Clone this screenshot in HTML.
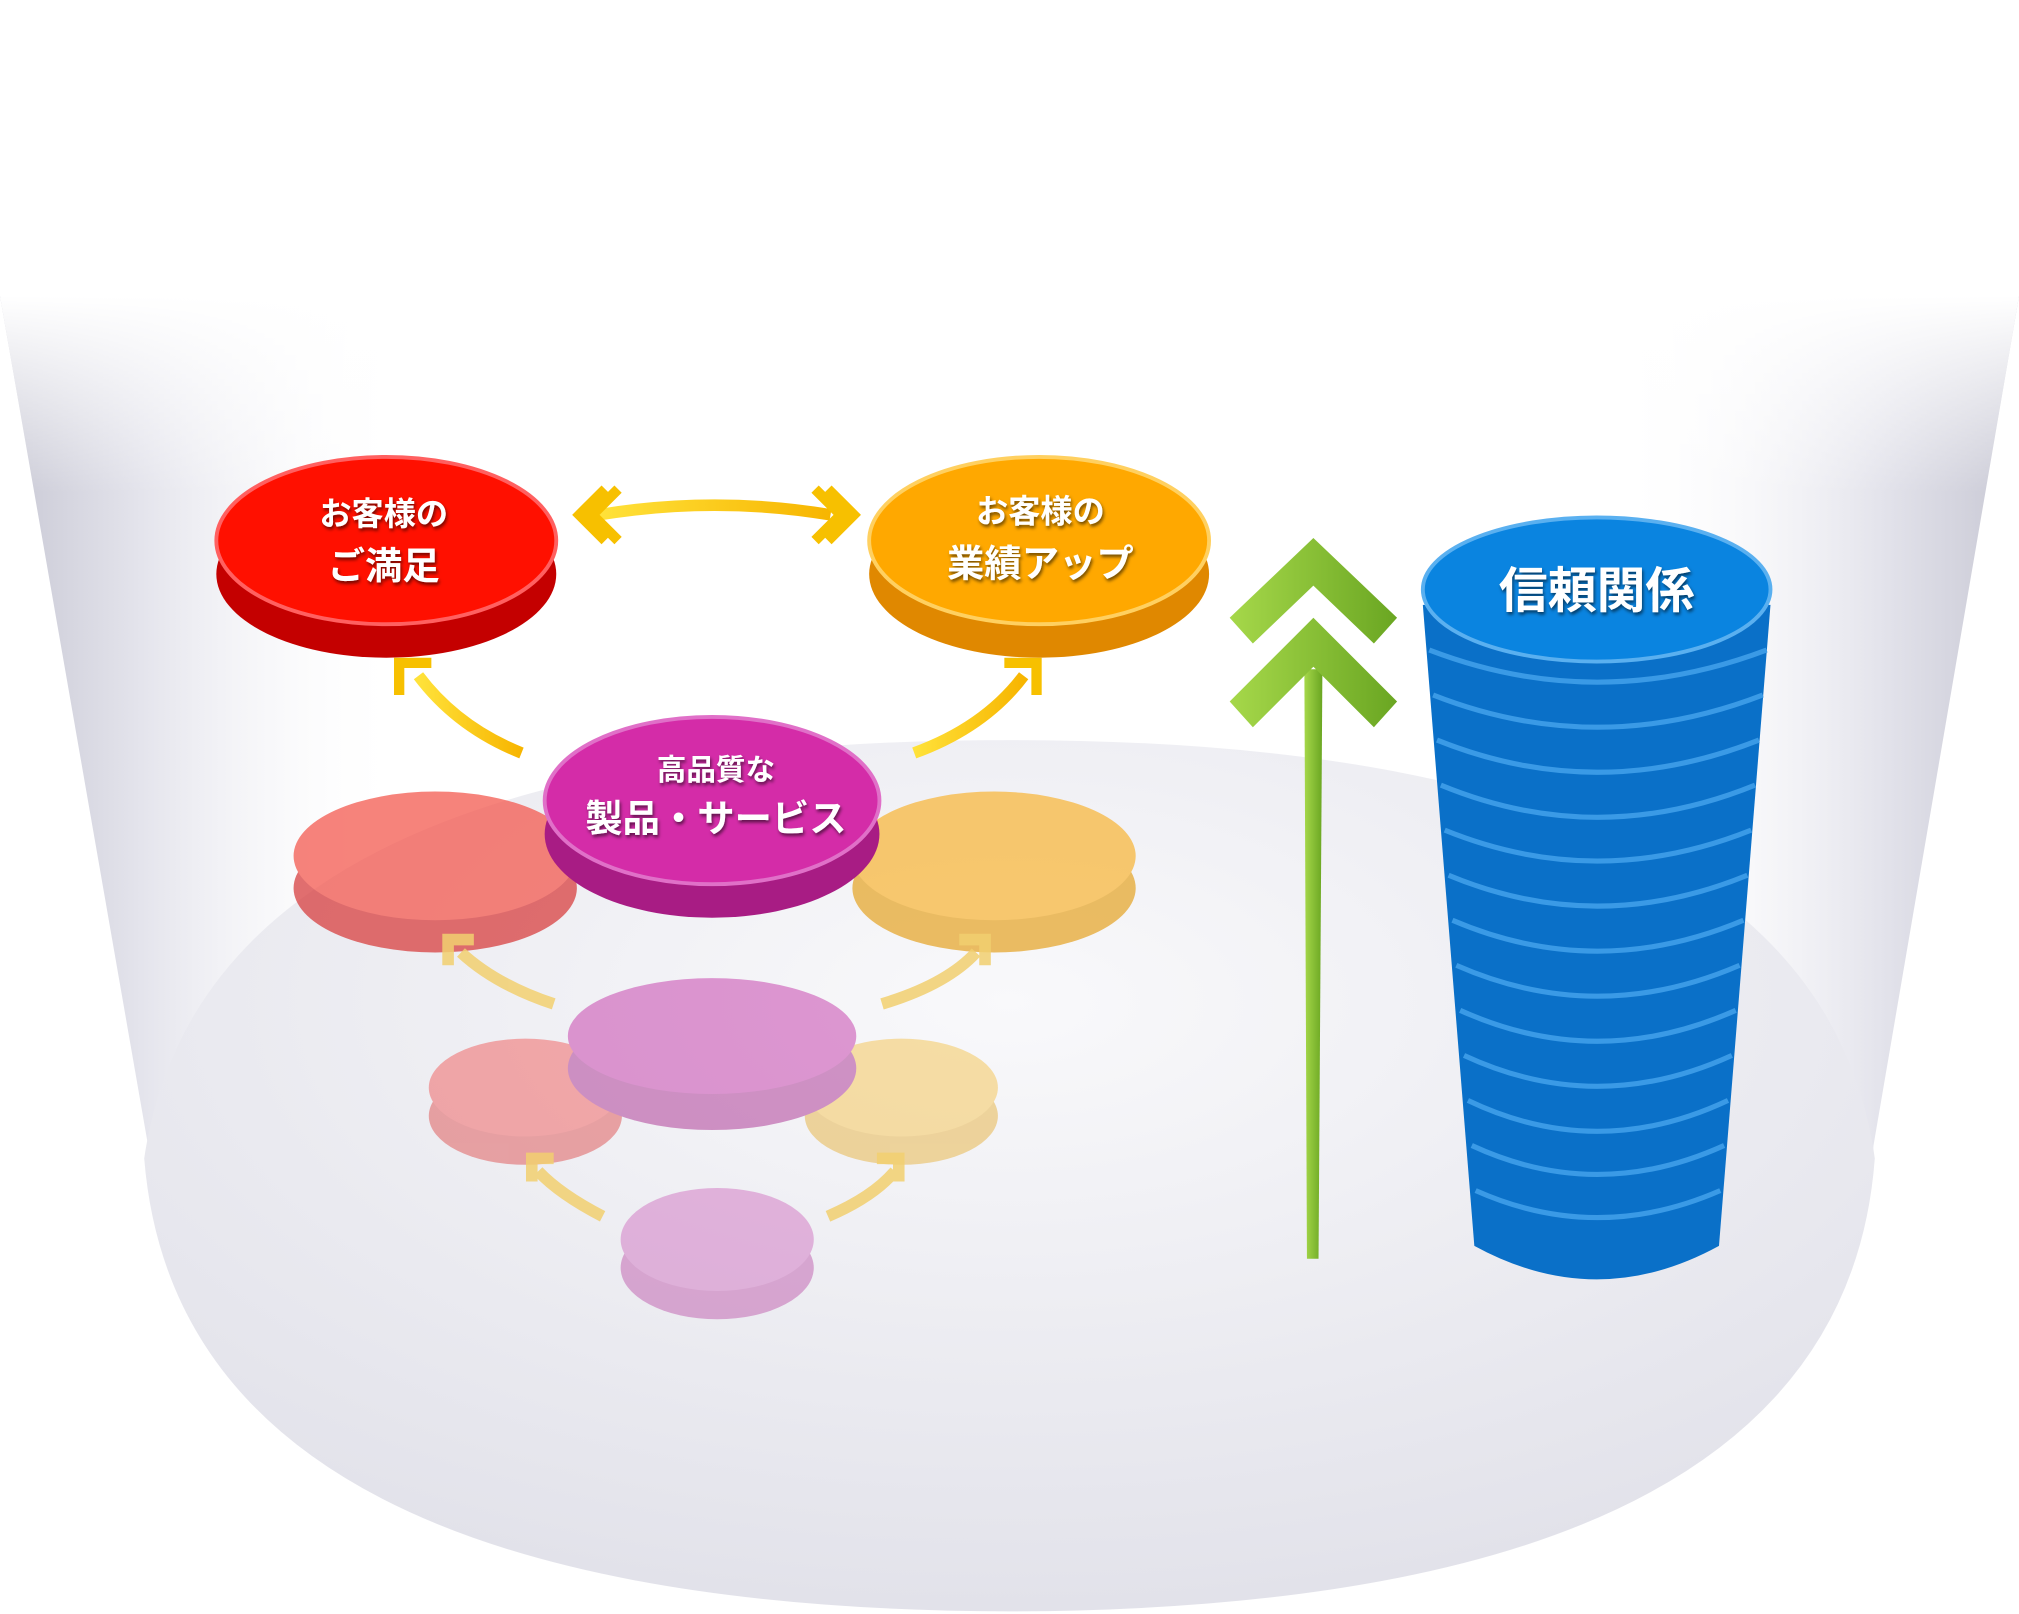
<!DOCTYPE html>
<html><head><meta charset="utf-8">
<style>
html,body{margin:0;padding:0;background:#fff;}
svg{display:block;}
text{font-family:"Liberation Sans","Noto Sans CJK JP",sans-serif;font-weight:bold;fill:#fff;}
</style></head><body>
<svg width="2019" height="1614" viewBox="0 0 1568 1254" preserveAspectRatio="none" xmlns="http://www.w3.org/2000/svg">
<defs>
<linearGradient id="wallL" x1="0" y1="0" x2="1" y2="0">
<stop offset="0" stop-color="#c8c8d4"/><stop offset="0.07" stop-color="#e4e4ec"/><stop offset="0.2" stop-color="#fff" stop-opacity="0"/>
<stop offset="0.8" stop-color="#fff" stop-opacity="0"/><stop offset="0.93" stop-color="#e4e4ec"/><stop offset="1" stop-color="#c8c8d4"/></linearGradient>
<linearGradient id="wallV" x1="0" y1="0" x2="0" y2="1">
<stop offset="0" stop-color="#fff"/><stop offset="0.15" stop-color="#fff" stop-opacity="0"/><stop offset="1" stop-color="#fff" stop-opacity="0"/></linearGradient>
<radialGradient id="floor" cx="0.5" cy="0.3" r="0.7">
<stop offset="0" stop-color="#f9f9fb"/><stop offset="1" stop-color="#e2e2ea"/></radialGradient>
<linearGradient id="grn" x1="0" y1="0" x2="1" y2="0"><stop offset="0" stop-color="#a6d84a"/><stop offset="1" stop-color="#6aa622"/></linearGradient>
<linearGradient id="yel" x1="0" y1="0" x2="1" y2="0"><stop offset="0" stop-color="#ffe23a"/><stop offset="1" stop-color="#f7b500"/></linearGradient>
<filter id="ts"><feDropShadow dx="1" dy="2" stdDeviation="1.2" flood-color="#000" flood-opacity="0.55"/></filter>
</defs>
<rect width="1568" height="1254" fill="#fff"/>
<path d="M0,230 L115,890 Q140,1250 784,1252 Q1430,1250 1455,890 L1568,230 Z" fill="url(#wallL)"/>
<path d="M0,230 L115,890 Q140,1250 784,1252 Q1430,1250 1455,890 L1568,230 Z" fill="url(#wallV)"/>
<path d="M112,900 Q160,575 784,575 Q1410,575 1456,900 Q1430,1250 784,1252 Q140,1250 112,900 Z" fill="url(#floor)"/>

<g opacity="0.55">
<ellipse cx="557" cy="985" rx="75" ry="40" fill="#c46ab4"/><ellipse cx="557" cy="963" rx="75" ry="40" fill="#d37fc6"/>
<ellipse cx="408" cy="867" rx="75" ry="38" fill="#e06060"/><ellipse cx="408" cy="845" rx="75" ry="38" fill="#f06a6a"/>
<ellipse cx="700" cy="867" rx="75" ry="38" fill="#e8b850"/><ellipse cx="700" cy="845" rx="75" ry="38" fill="#f5c860"/>
<ellipse cx="553" cy="830" rx="112" ry="48" fill="#b0409a"/><ellipse cx="553" cy="805" rx="112" ry="45" fill="#c848b0"/>
</g>
<g opacity="0.75">
<ellipse cx="338" cy="690" rx="110" ry="50" fill="#d84040"/><ellipse cx="338" cy="665" rx="110" ry="50" fill="#f45a50"/>
<ellipse cx="772" cy="690" rx="110" ry="50" fill="#e6a830"/><ellipse cx="772" cy="665" rx="110" ry="50" fill="#f8b840"/>
</g>
<g fill="none" stroke="#f2d070" stroke-width="9" opacity="0.85">
<path d="M430,780 Q385,765 358,740"/><path d="M685,780 Q735,765 758,740"/>
<path d="M468,945 Q435,928 418,910"/><path d="M643,945 Q678,930 695,910"/>
<path d="M348,750 L348,730 L368,730"/><path d="M765,750 L765,730 L745,730"/>
<path d="M413,918 L413,900 L430,900"/><path d="M698,918 L698,900 L681,900"/>
</g>
<ellipse cx="553" cy="648" rx="130" ry="65" fill="#a81c84"/>
<ellipse cx="553" cy="622" rx="130" ry="65" fill="#d42ca8" stroke="#e070c8" stroke-width="3"/>
<text x="556" y="606" font-size="23" text-anchor="middle" filter="url(#ts)">高品質な</text>
<text x="556" y="646" font-size="29" text-anchor="middle" filter="url(#ts)">製品・サービス</text>
<ellipse cx="300" cy="446" rx="132" ry="65" fill="#c40000"/>
<ellipse cx="300" cy="420" rx="132" ry="65" fill="#ff1000" stroke="#ff6060" stroke-width="3"/>
<text x="298" y="408" font-size="25" text-anchor="middle" filter="url(#ts)">お客様の</text>
<text x="298" y="450" font-size="29" text-anchor="middle" filter="url(#ts)">ご満足</text>
<ellipse cx="807" cy="446" rx="132" ry="65" fill="#e08800"/>
<ellipse cx="807" cy="420" rx="132" ry="65" fill="#ffa800" stroke="#ffd060" stroke-width="3"/>
<text x="808" y="406" font-size="25" text-anchor="middle" filter="url(#ts)">お客様の</text>
<text x="808" y="448" font-size="29" text-anchor="middle" filter="url(#ts)">業績アップ</text>
<g fill="none" stroke="url(#yel)" stroke-width="9">
<path d="M465,400 Q555,385 645,400"/>
<path d="M405,585 Q355,565 325,525"/><path d="M710,585 Q765,565 795,525"/>
</g>
<g fill="none" stroke="#f7c000" stroke-width="8">
<path d="M470,380 L450,400 L470,420"/><path d="M480,380 L460,400 L480,420"/>
<path d="M643,380 L663,400 L643,420"/><path d="M633,380 L653,400 L633,420"/>
<path d="M310,540 L310,515 L335,515"/><path d="M805,540 L805,515 L780,515"/>
</g>
<path d="M1013,520 L1027,520 L1024,978 L1015,978 Z" fill="url(#grn)"/>
<path d="M955,480 L1020,418 L1085,480 L1067,500 L1020,455 L973,500 Z" fill="url(#grn)"/>
<path d="M955,545 L1020,480 L1085,545 L1067,565 L1020,518 L973,565 Z" fill="url(#grn)"/>
<g>
<path d="M1105,470 L1145,968 Q1240,1020 1335,968 L1375,470 Z" fill="#0a70c8"/>
<g fill="none" stroke="#3a9ae6" stroke-width="4">
<path d="M1110,505 Q1240,555 1372,505"/><path d="M1113,540 Q1240,590 1369,540"/>
<path d="M1116,575 Q1240,625 1366,575"/><path d="M1119,610 Q1240,660 1363,610"/>
<path d="M1122,645 Q1240,693 1360,645"/><path d="M1125,680 Q1240,728 1357,680"/>
<path d="M1128,715 Q1240,763 1354,715"/><path d="M1131,750 Q1240,798 1351,750"/>
<path d="M1134,785 Q1240,833 1348,785"/><path d="M1137,820 Q1240,868 1345,820"/>
<path d="M1140,855 Q1240,903 1342,855"/><path d="M1143,890 Q1240,935 1339,890"/>
<path d="M1146,925 Q1240,967 1336,925"/>
</g>
<ellipse cx="1240" cy="458" rx="135" ry="56" fill="#0a84e0" stroke="#5ab0f0" stroke-width="3"/>
<text x="1240" y="472" font-size="38" text-anchor="middle" filter="url(#ts)">信頼関係</text>
</g>
</svg>
</body></html>
